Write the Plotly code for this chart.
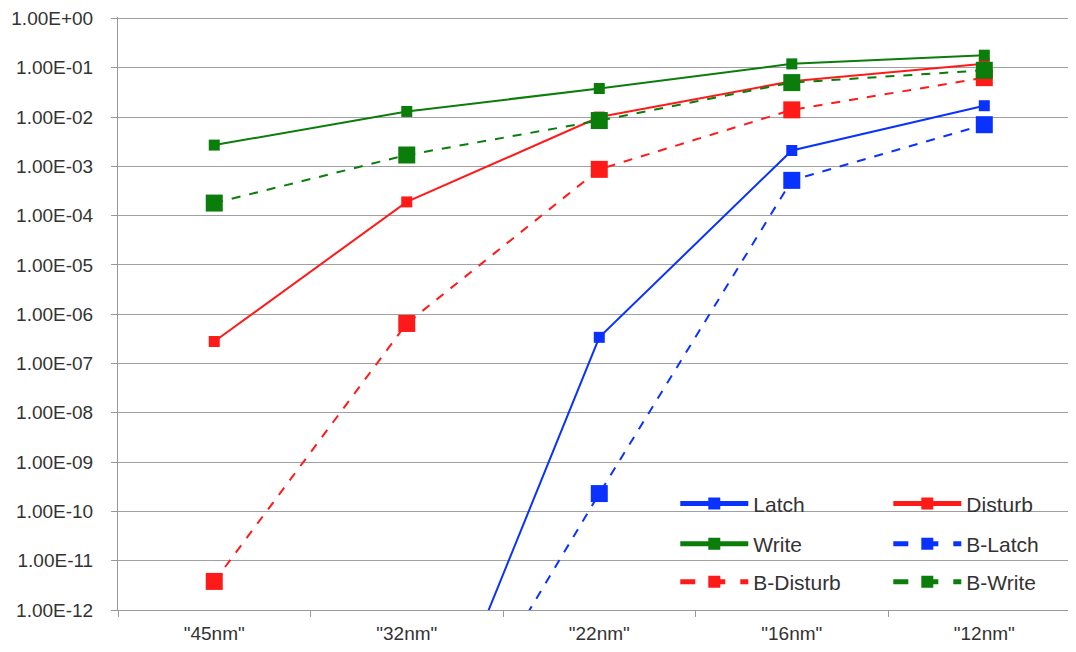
import plotly.graph_objects as go

categories = ['"45nm"', '"32nm"', '"22nm"', '"16nm"', '"12nm"']
latch = [None, 8e-17, 3.4e-7, 2.1e-3, 1.7e-2]
disturb = [2.8e-7, 1.9e-4, 1.0e-2, 5.3e-2, 1.2e-1]
write = [2.7e-3, 1.3e-2, 3.8e-2, 1.2e-1, 1.8e-1]
b_latch = [None, 7e-17, 2.3e-10, 5.2e-4, 7.0e-3]
b_disturb = [3.8e-12, 6.5e-7, 8.7e-4, 1.4e-2, 6.3e-2]
b_write = [1.8e-4, 1.7e-3, 8.5e-3, 5.0e-2, 8.9e-2]

tick_vals = [10.0 ** -k for k in range(0, 13)]
tick_text = ["1.00E+00"] + ["1.00E-%02d" % k for k in range(1, 13)]

BLUE = "#0a32ff"
RED = "#ff1a1a"
GREEN = "#0a7d0a"

series = [
    ("Latch", latch, BLUE, "solid", 11, "legend"),
    ("Disturb", disturb, RED, "solid", 11, "legend2"),
    ("Write", write, GREEN, "solid", 11, "legend3"),
    ("B-Latch", b_latch, BLUE, "dash", 17, "legend4"),
    ("B-Disturb", b_disturb, RED, "dash", 17, "legend5"),
    ("B-Write", b_write, GREEN, "dash", 17, "legend6"),
]

fig = go.Figure()
for name, vals, color, dash, msize, leg in series:
    fig.add_trace(go.Scatter(
        x=categories, y=vals, name=name, mode="lines+markers",
        line=dict(color=color, width=2, dash=dash),
        marker=dict(symbol="square", size=msize, color=color),
        connectgaps=False, legend=leg, showlegend=True,
    ))

legend_font = dict(family="Liberation Sans, Arial, sans-serif", size=21, color="#333333")
col1, col2 = 0.586, 0.810
row1, row2, row3 = 0.179, 0.111, 0.047
positions = {
    "legend": (col1, row1),
    "legend2": (col2, row1),
    "legend3": (col1, row2),
    "legend4": (col2, row2),
    "legend5": (col1, row3),
    "legend6": (col2, row3),
}
leg_layout = {}
for key, (lx, ly) in positions.items():
    leg_layout[key] = dict(
        x=lx, y=ly, xanchor="left", yanchor="middle",
        bgcolor="rgba(0,0,0,0)", font=legend_font,
        itemwidth=68, itemsizing="constant",
    )

fig.update_layout(
    width=1076, height=652,
    margin=dict(l=110, r=15, t=8.5, b=50, autoexpand=False),
    paper_bgcolor="white", plot_bgcolor="white",
    showlegend=True,
    font=dict(family="Liberation Sans, Arial, sans-serif", size=19, color="#333333"),
    **leg_layout,
)
fig.update_xaxes(
    type="category", range=[-0.5, 4.44], automargin=False,
    showline=True, linecolor="#999999", linewidth=1,
    ticks="outside", ticklen=6, tickcolor="#999999", tickson="boundaries",
    ticklabelstandoff=6,
    showgrid=False, tickfont=dict(size=19, color="#333333"),
)
fig.update_yaxes(
    type="log", range=[-12, 0.03], automargin=False,
    tickvals=tick_vals, ticktext=tick_text,
    showline=True, linecolor="#999999", linewidth=1,
    ticks="outside", ticklen=6, tickcolor="#999999",
    ticklabelstandoff=14,
    showgrid=True, gridcolor="#a0a0a0", gridwidth=1,
    zeroline=False, tickfont=dict(size=19, color="#333333"),
)

fig.write_html("out.html")
